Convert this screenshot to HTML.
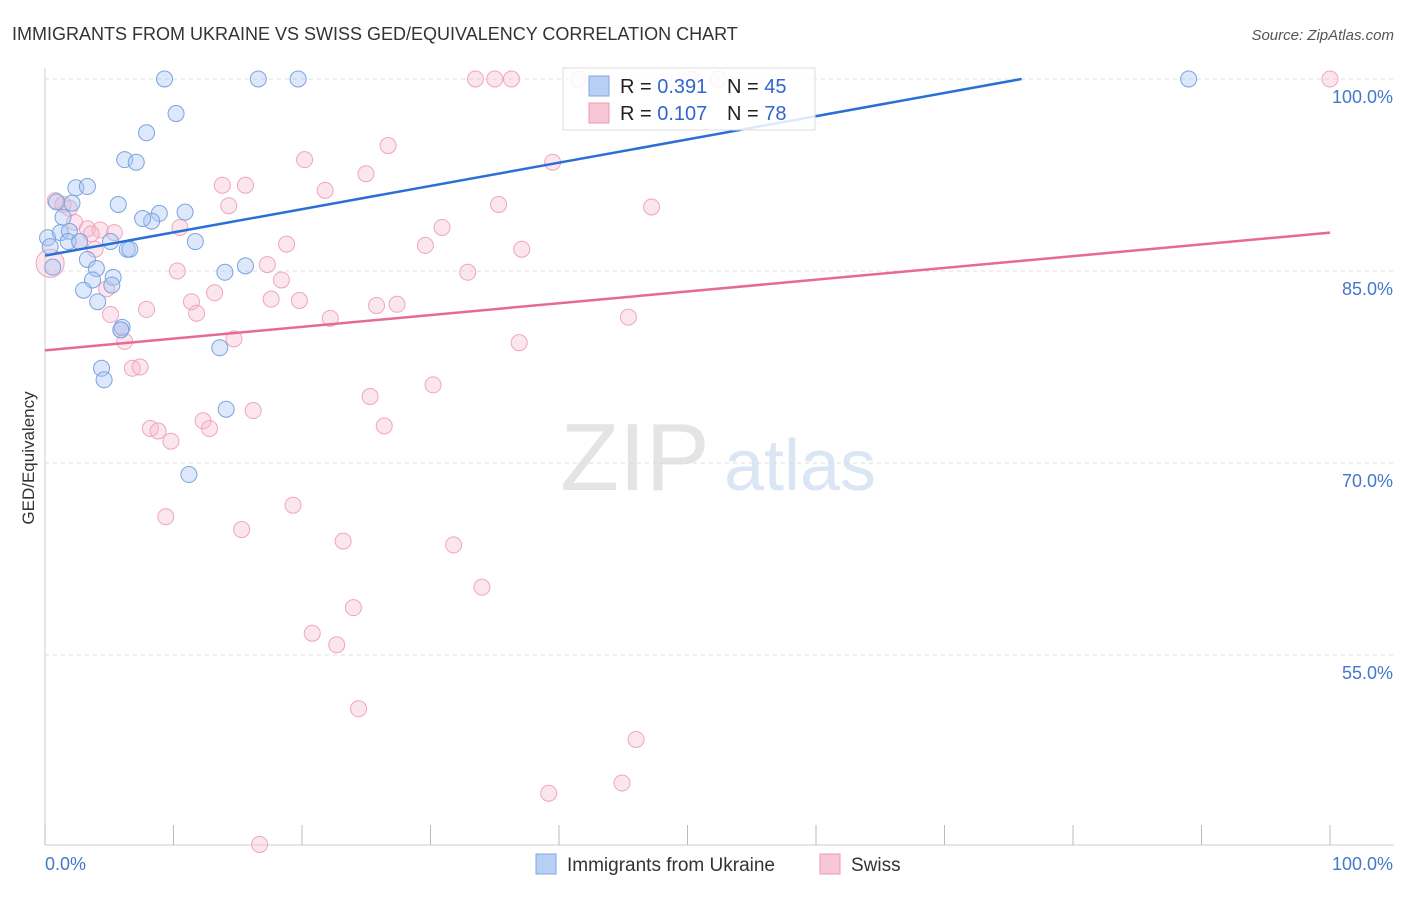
<!DOCTYPE html>
<html><head><meta charset="utf-8">
<style>
body{margin:0;background:#fff;font-family:"Liberation Sans",sans-serif;}
svg text{font-family:"Liberation Sans",sans-serif;}
</style></head>
<body>
<svg id="chart" width="1406" height="892" xmlns="http://www.w3.org/2000/svg">
<text x="12" y="40" font-size="18" fill="#333">IMMIGRANTS FROM UKRAINE VS SWISS GED/EQUIVALENCY CORRELATION CHART</text>
<text x="1394" y="40" font-size="15" fill="#555" font-style="italic" text-anchor="end">Source: ZipAtlas.com</text>
<text x="635" y="490" font-size="96" fill="#e4e4e4" font-family="Liberation Serif" text-anchor="middle">ZIP</text>
<text x="800" y="490" font-size="72" fill="#dbe6f5" text-anchor="middle">atlas</text>
<text transform="translate(34,458) rotate(-90)" font-size="17" fill="#333" text-anchor="middle">GED/Equivalency</text>
<g id="grid"></g><g id="axes"></g><g id="pts"></g><g id="lines"></g>
<g>
<rect x="563" y="68" width="252" height="62" fill="#fff" fill-opacity="0.85" stroke="#ddd"/>
<rect x="589" y="76" width="20" height="20" fill="#b8d0f4" stroke="#7fa6e0"/>
<rect x="589" y="103" width="20" height="20" fill="#f9c6d6" stroke="#ec9ab4"/>
<text x="620" y="93" font-size="20" fill="#222">R = <tspan fill="#3366cc">0.391</tspan></text>
<text x="727" y="93" font-size="20" fill="#222">N = <tspan fill="#3366cc">45</tspan></text>
<text x="620" y="120" font-size="20" fill="#222">R = <tspan fill="#3366cc">0.107</tspan></text>
<text x="727" y="120" font-size="20" fill="#222">N = <tspan fill="#3366cc">78</tspan></text>
</g>
<g>
<rect x="536" y="854" width="20" height="20" fill="#b8d0f4" stroke="#7fa6e0"/>
<text x="567" y="871" font-size="19" fill="#333">Immigrants from Ukraine</text>
<rect x="820" y="854" width="20" height="20" fill="#f9c6d6" stroke="#ec9ab4"/>
<text x="851" y="871" font-size="19" fill="#333">Swiss</text>
</g>
</svg>
<script>
const xTicks=[0,10,20,30,40,50,60,70,80,90,100];
const yTicks=[100,85,70,55];
const yTickLabels=["100.0%","85.0%","70.0%","55.0%"];
const xAxisLabels=["0.0%","100.0%"];
const ukraineX=[9.3,16.6,19.7,89,10.2,7.9,6.2,7.1,2.4,3.3,0.9,5.7,1.4,8.9,10.9,8.3,7.6,0.2,1.2,1.9,1.8,2.7,5.1,11.7,0.4,6.4,6.6,3.3,0.6,4,15.6,14,5.3,3.7,5.2,3,4.1,6,5.9,13.6,4.4,4.6,14.1,11.2,2.1];
const ukraineY=[100,100,100,100,97.3,95.8,93.7,93.5,91.5,91.6,90.4,90.2,89.2,89.5,89.6,88.9,89.1,87.6,88,88.1,87.3,87.3,87.3,87.3,86.9,86.7,86.7,85.9,85.3,85.2,85.4,84.9,84.5,84.3,83.9,83.5,82.6,80.6,80.4,79,77.4,76.5,74.2,69.1,90.3];
const swissX=[0.8,1.4,1.9,2.3,3.3,4.3,5.4,2.7,3.9,4.8,7.9,10.3,11.4,11.8,13.2,13.8,14.3,15.6,14.7,17.3,18.4,17.6,19.8,18.8,20.2,21.8,22.2,24.98,26.7,25.8,27.4,30.9,29.6,32.9,35.3,37.1,39.5,47.2,45.4,36.9,30.2,16.2,12.3,12.8,8.2,8.8,9.8,26.4,25.3,6.2,5.9,6.8,7.4,9.4,15.3,19.3,23.2,31.8,34,24,20.8,22.7,24.4,46,44.9,39.2,16.7,33.5,35,36.3,41.5,50.2,52.4,100,5.1,10.5,3.6,0.4];
const swissY=[90.5,90.2,89.9,88.8,88.3,88.2,88,87.3,86.7,83.6,82,85,82.6,81.7,83.3,91.7,90.1,91.7,79.7,85.5,84.3,82.8,82.7,87.1,93.7,91.3,81.3,92.6,94.8,82.3,82.4,88.4,87,84.9,90.2,86.7,93.5,90,81.4,79.4,76.1,74.1,73.3,72.7,72.7,72.5,71.7,72.9,75.2,79.5,80.4,77.4,77.5,65.8,64.8,66.7,63.9,63.6,60.3,58.7,56.7,55.8,50.8,48.4,45,44.2,40.2,100,100,100,100,100,100,100,81.6,88.4,87.9,85.6];
const blueLine=[0,86.2,76,100];
const pinkLine=[0,78.8,100,88];
const NS="http://www.w3.org/2000/svg";
function X(v){return 45+v*12.85;}
function Y(v){return 79+(100-v)*12.8;}
function mk(tag,attrs,parent){const e=document.createElementNS(NS,tag);for(const k in attrs)e.setAttribute(k,attrs[k]);document.getElementById(parent).appendChild(e);return e;}
yTicks.forEach((t,i)=>{
 const g=mk('line',{x1:45,x2:1394,y1:Y(t),y2:Y(t),stroke:'#ddd','stroke-dasharray':'4,4'},'grid');
 
 
 const tx=mk('text',{x:1393,y:Y(t)+24,'font-size':18,fill:'#4477cc','text-anchor':'end'},'axes');
 tx.textContent=yTickLabels[i];
 
 
});
const ax=mk('line',{x1:45,x2:45,y1:68,y2:845,stroke:'#ccc'},'axes');


const bx=mk('line',{x1:45,x2:1394,y1:845,y2:845,stroke:'#ccc'},'axes');


xTicks.forEach(t=>{
 const l=mk('line',{x1:X(t),x2:X(t),y1:825,y2:845,stroke:'#bbb'},'axes');
 
 
});
const xl0=mk('text',{x:45,y:870,'font-size':18,fill:'#4477cc'},'axes');xl0.textContent=xAxisLabels[0];


const xl1=mk('text',{x:1393,y:870,'font-size':18,fill:'#4477cc','text-anchor':'end'},'axes');xl1.textContent=xAxisLabels[1];


swissX.forEach((v,i)=>{
 const c=mk('circle',{cx:X(v),cy:Y(swissY[i]),r:i==swissX.length-1?14:8,fill:'#f7b8cc','fill-opacity':0.35,stroke:'#efa5bf','stroke-width':1},'pts');
 
 
});
ukraineX.forEach((v,i)=>{
 const c=mk('circle',{cx:X(v),cy:Y(ukraineY[i]),r:8,fill:'#a9c6f2','fill-opacity':0.4,stroke:'#7ca3e0','stroke-width':1},'pts');
 
 
});
const bl=mk('line',{x1:X(blueLine[0]),y1:Y(blueLine[1]),x2:X(blueLine[2]),y2:Y(blueLine[3]),stroke:'#2a6fd6','stroke-width':2.5},'lines');


const pl=mk('line',{x1:X(pinkLine[0]),y1:Y(pinkLine[1]),x2:X(pinkLine[2]),y2:Y(pinkLine[3]),stroke:'#e66a98','stroke-width':2.5},'lines');


</script>
</body></html>
